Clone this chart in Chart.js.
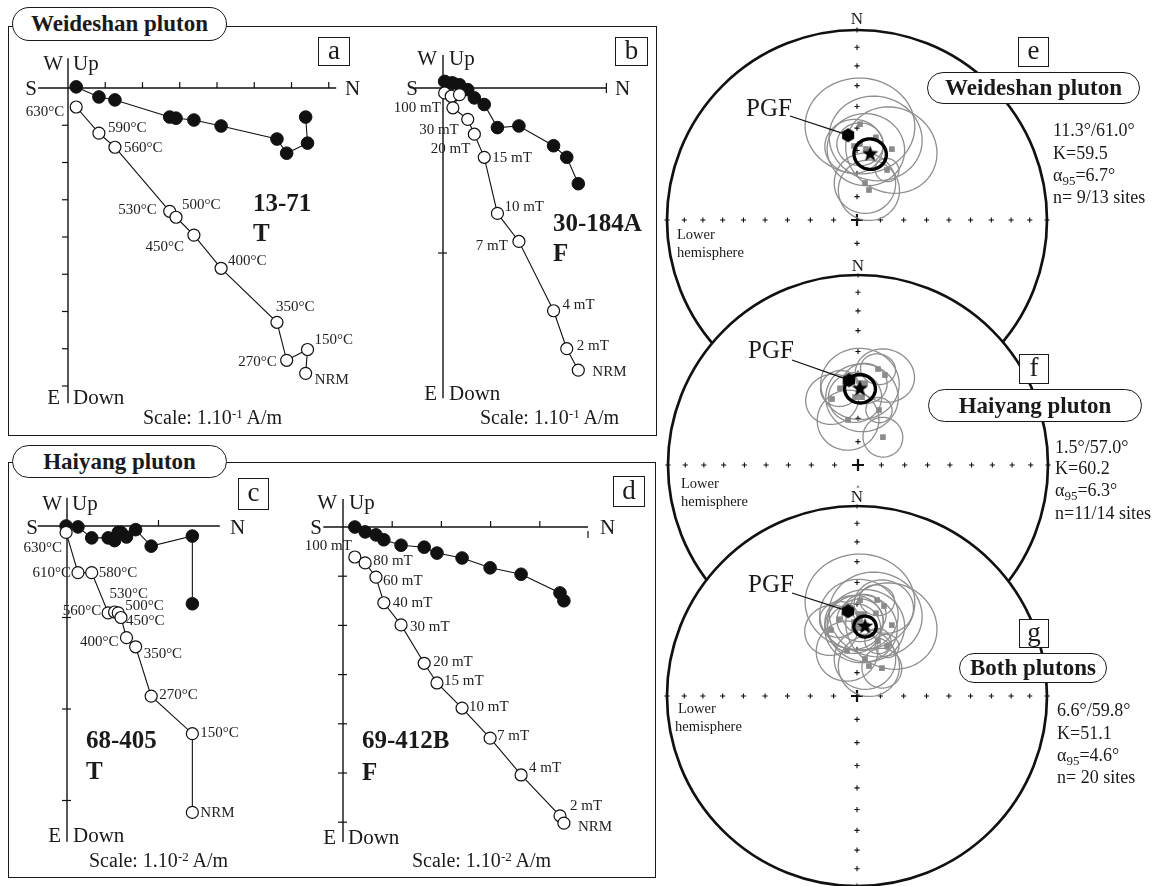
<!DOCTYPE html>
<html><head><meta charset="utf-8">
<script src="https://cdn.jsdelivr.net/npm/chart.js@4.4.1/dist/chart.umd.min.js"></script>
<style>
html,body{margin:0;padding:0;background:#fff;}
#root{position:relative;width:1157px;height:886px;overflow:hidden;font-family:"Liberation Serif","DejaVu Serif",serif;color:#1a1a1a;background:#fff;}
.frame{position:absolute;border:1.5px solid #1a1a1a;box-sizing:border-box;z-index:0;}
canvas{position:absolute;}
.t{position:absolute;white-space:nowrap;line-height:1;z-index:10;}
.t sub{font-size:0.72em;vertical-align:-0.3em;line-height:0;}
.t sup{font-size:0.65em;vertical-align:0.45em;line-height:0;}
.pill{position:absolute;border:1.5px solid #1a1a1a;border-radius:17px;background:#fff;font-weight:bold;display:flex;align-items:center;justify-content:center;box-sizing:border-box;z-index:10;font-size:23px;white-space:nowrap;}
.box{position:absolute;border:1.2px solid #1a1a1a;background:#fff;display:flex;align-items:center;justify-content:center;box-sizing:border-box;z-index:10;font-size:27px;line-height:1;padding-bottom:3px;}
</style></head><body><div id="root"></div>
<script>
// ===================== DATA =====================
// Orthogonal (Zijderveld) diagrams: values in units of the axis tick spacing of each panel
// north = N component (horizontal axis), east = E component (filled dots), down = Down component (open dots)
const stepsA = ['630°C','590°C','560°C','530°C','500°C','450°C','400°C','350°C','270°C','150°C','NRM'];
const northA = [0.22,0.83,1.26,2.73,2.90,3.38,4.11,5.61,5.87,6.43,6.38];
const eastA  = [-0.03,0.24,0.32,0.78,0.81,0.86,1.02,1.37,1.75,1.48,0.78];
const downA  = [0.51,1.21,1.59,3.31,3.47,3.95,4.84,6.29,7.31,7.02,7.66];

const stepsB = ['','','','100 mT','30 mT','20 mT','15 mT','10 mT','7 mT','4 mT','2 mT','NRM'];
const northB = [0.01,0.05,0.10,0.06,0.15,0.19,0.25,0.33,0.46,0.67,0.75,0.82];
const eastB  = [-0.04,-0.03,-0.02,-0.03,0.01,0.06,0.10,0.24,0.23,0.35,0.42,0.58];
const downB  = [0.03,0.05,0.04,0.12,0.19,0.28,0.42,0.76,0.93,1.35,1.58,1.71];

const stepsC = ['630°C','610°C','580°C','560°C','530°C','500°C','450°C','400°C','350°C','270°C','150°C','NRM'];
const northC = [-0.01,0.12,0.27,0.45,0.52,0.56,0.59,0.65,0.75,0.92,1.37,1.37];
const eastC  = [0.00,0.01,0.13,0.13,0.16,0.07,0.07,0.12,0.04,0.22,0.11,0.85];
const downC  = [0.07,0.51,0.51,0.95,0.94,0.95,1.00,1.22,1.32,1.86,2.27,3.13];

const stepsD = ['100 mT','80 mT','60 mT','40 mT','30 mT','20 mT','15 mT','10 mT','7 mT','4 mT','2 mT','NRM'];
const northD = [0.24,0.45,0.67,0.83,1.18,1.65,1.91,2.42,2.99,3.62,4.41,4.49];
const eastD  = [0.00,0.10,0.16,0.26,0.37,0.41,0.53,0.63,0.83,0.96,1.34,1.50];
const downD  = [0.61,0.73,1.02,1.54,1.99,2.77,3.17,3.68,4.29,5.04,5.87,6.02];

// Site-mean directions (declination °, inclination °, alpha95 °)
const weideshanDec = [1.8,12.9,26.2,31.0,12.2,21.8,357.7,2.3,7.2];
const weideshanInc = [48.2,53.2,55.8,64.9,73.8,76.2,58.0,57.1,59.1];
const weideshanA95 = [22,19,19,5,13,13,12,9.5,16];
const haiyangDec = [1.4,16.7,11.8,338.5,347.5,41.8,20.9,3.4,357.5,346.8,4.9];
const haiyangInc = [54.5,49.1,47.2,59.4,70.2,74.0,64.7,60.7,60.7,55.9,54.4];
const haiyangA95 = [16,12,7,11,13,8.5,5.5,15,11,8,9];
// Formation means [Dec, Inc, alpha95] and present geomagnetic field [Dec, Inc]
const weideshanMean = [11.3,61.0,6.7];
const haiyangMean = [1.5,57.0,6.3];
const bothMean = [6.6,59.8,4.6];
const pgfDir = [354,53];
// Stereonet reference marks
const stereoTickInc = [80,70,60,50,40,30,20,10,0];
const stereoTickDec = [0,90,180,270];

// ===================== HELPERS =====================
const root = document.getElementById('root');
Chart.defaults.font.family = '"Liberation Serif","DejaVu Serif",serif';

function T(html,x,y,size,opt){
  opt=opt||{};
  const d=document.createElement('div'); d.className='t'; d.innerHTML=html;
  d.style.left=x+'px'; d.style.top=y+'px'; d.style.fontSize=size+'px';
  const tx = opt.align==='right'?'-100%':(opt.align==='center'?'-50%':'0');
  d.style.transform='translate('+tx+',-50%)';
  if(opt.bold) d.style.fontWeight='bold';
  if(opt.bg) d.style.background='#fff';
  root.appendChild(d); return d;
}
function el(cls,l,t,w,h,html){
  const d=document.createElement('div'); d.className=cls;
  d.style.left=l+'px'; d.style.top=t+'px'; d.style.width=w+'px'; d.style.height=h+'px';
  if(html!==undefined) d.innerHTML=html; root.appendChild(d); return d;
}
function mkCanvas(l,t,w,h,z){
  const c=document.createElement('canvas'); c.width=w; c.height=h;
  c.style.left=l+'px'; c.style.top=t+'px'; c.style.width=w+'px'; c.style.height=h+'px'; c.style.zIndex=z;
  root.appendChild(c); return c;
}

// ---------- Zijderveld chart ----------
function zijChart(cfg){
  const b=cfg.box, o=cfg.origin, ppu=cfg.ppu, ax=cfg.axes;
  const cv=mkCanvas(b.l,b.t,b.w,b.h,1);
  const hor=cfg.north.map((n,i)=>({x:n,y:cfg.east[i]}));
  const ver=cfg.north.map((n,i)=>({x:n,y:cfg.down[i]}));
  new Chart(cv,{type:'scatter',
    data:{datasets:[
      {data:ver,showLine:true,borderColor:'#111',borderWidth:1.1,pointRadius:6,pointBackgroundColor:'#fff',pointBorderColor:'#111',pointBorderWidth:1.2,order:1,clip:false},
      {data:hor,showLine:true,borderColor:'#111',borderWidth:1.1,pointRadius:6.3,pointBackgroundColor:'#111',pointBorderColor:'#111',pointBorderWidth:1,order:2,clip:false}
    ]},
    options:{responsive:false,animation:false,events:[],devicePixelRatio:1,
      layout:{padding:0,autoPadding:false},
      plugins:{legend:{display:false},tooltip:{enabled:false}},
      scales:{
        x:{type:'linear',display:false,min:(b.l-o.x)/ppu,max:(b.l+b.w-o.x)/ppu},
        y:{type:'linear',display:false,reverse:true,min:(b.t-o.y)/ppu,max:(b.t+b.h-o.y)/ppu}
      }},
    plugins:[{id:'zaxes',
      beforeDatasetsDraw(ch){
        const c=ch.ctx,X=v=>ch.scales.x.getPixelForValue(v),Y=v=>ch.scales.y.getPixelForValue(v);
        const x0=X(0),y0=Y(0);
        const L=(a,b2,c2,d)=>{c.beginPath();c.moveTo(a,b2);c.lineTo(c2,d);c.stroke();};
        c.save(); c.strokeStyle='#111'; c.lineWidth=1.4;
        L(X(ax.h[0]),y0,X(ax.h[1]),y0);
        L(x0,Y(ax.v[0]),x0,Y(ax.v[1]));
        c.lineWidth=1.2;
        (ax.hUp||[]).forEach(t=>L(X(t),y0,X(t),y0-6));
        (ax.hDown||[]).forEach(t=>L(X(t),y0+4,X(t),y0+11));
        (ax.hCross||[]).forEach(t=>L(X(t),y0-5,X(t),y0+5));
        (ax.vLeft||[]).forEach(t=>L(x0-6,Y(t),x0,Y(t)));
        (ax.vCross||[]).forEach(t=>L(x0-5,Y(t),x0+4,Y(t)));
        c.restore();
      },
      afterDatasetsDraw(ch){
        const c=ch.ctx,X=v=>ch.scales.x.getPixelForValue(v),Y=v=>ch.scales.y.getPixelForValue(v);
        c.save(); c.fillStyle='#222'; c.font='15px "Liberation Serif"'; c.textBaseline='middle';
        cfg.steps.forEach((s,i)=>{
          const p=cfg.labels[i]; if(!s||!p) return;
          c.textAlign=p[2]; c.fillText(s,X(cfg.north[i])+p[0],Y(cfg.down[i])+p[1]);
        });
        c.restore();
      }}]
  });
}

// ---------- Stereonet ----------
const RAD=Math.PI/180;
function dirVec(D,I){return [Math.cos(I*RAD)*Math.cos(D*RAD),Math.cos(I*RAD)*Math.sin(D*RAD),Math.sin(I*RAD)];}
function vecProj(v){
  let n=v[0],e=v[1],d=v[2]; if(d<0){n=-n;e=-e;d=-d;}
  const len=Math.hypot(n,e,d); n/=len;e/=len;d/=len;
  const inc=Math.asin(Math.min(1,d)); const r=Math.SQRT2*Math.sin((Math.PI/2-inc)/2);
  const h=Math.hypot(n,e)||1; return {x:r*e/h,y:r*n/h};
}
function proj(D,I){return vecProj(dirVec(D,I));}
function cross(a,b){return [a[1]*b[2]-a[2]*b[1],a[2]*b[0]-a[0]*b[2],a[0]*b[1]-a[1]*b[0]];}
function norm(a){const l=Math.hypot(a[0],a[1],a[2]);return a.map(x=>x/l);}
function smallCircle(D,I,a){
  const p=dirVec(D,I); let u=cross(p,[0,0,1]); if(Math.hypot(u[0],u[1],u[2])<1e-6)u=[0,1,0]; u=norm(u);
  const w=cross(p,u); const pts=[]; const ca=Math.cos(a*RAD),sa=Math.sin(a*RAD);
  for(let k=0;k<=72;k++){const t=k*5*RAD;
    pts.push(vecProj([0,1,2].map(j=>p[j]*ca+(u[j]*Math.cos(t)+w[j]*Math.sin(t))*sa)));}
  return pts;
}
function makeStar(r){
  const s=Math.ceil(r*2+2),c=document.createElement('canvas');c.width=c.height=s;const g=c.getContext('2d');
  g.fillStyle='#000';g.beginPath();
  for(let k=0;k<10;k++){const rr=k%2?r*0.42:r,a=-Math.PI/2+k*Math.PI/5;g.lineTo(s/2+rr*Math.cos(a),s/2+rr*Math.sin(a));}
  g.closePath();g.fill();return c;
}
function makeHex(r){
  const s=Math.ceil(r*2+2),c=document.createElement('canvas');c.width=c.height=s;const g=c.getContext('2d');
  g.fillStyle='#000';g.beginPath();
  for(let k=0;k<6;k++){const a=Math.PI/6+k*Math.PI/3;g.lineTo(s/2+r*Math.cos(a),s/2+r*Math.sin(a));}
  g.closePath();g.fill();return c;
}
const starImg=makeStar(8.5), hexImg=makeHex(7);

function stereoChart(cfg){
  const half=209,R=190,lim=half/R;
  const L0=cfg.center.x-half,T0=cfg.center.y-half;
  const cv=mkCanvas(L0,T0,half*2,half*2,cfg.z);
  const sites=cfg.dec.map((d,i)=>proj(d,cfg.inc[i]));
  const m=proj(cfg.mean[0],cfg.mean[1]);
  const pg=proj(pgfDir[0],pgfDir[1]);
  new Chart(cv,{type:'scatter',
    data:{datasets:[
      {data:[pg],pointStyle:hexImg,pointRadius:7,order:1},
      {data:[m],pointStyle:starImg,pointRadius:8,order:2},
      {data:sites,pointStyle:'rect',pointRadius:4,pointBackgroundColor:'#8a8a8a',pointBorderColor:'#8a8a8a',pointBorderWidth:0,order:3}
    ]},
    options:{responsive:false,animation:false,events:[],devicePixelRatio:1,
      layout:{padding:0,autoPadding:false},
      plugins:{legend:{display:false},tooltip:{enabled:false}},
      scales:{x:{type:'linear',display:false,min:-lim,max:lim},y:{type:'linear',display:false,min:-lim,max:lim}}},
    plugins:[{id:'net',
      beforeDatasetsDraw(ch){
        const c=ch.ctx,sx=ch.scales.x,sy=ch.scales.y;
        const P=p=>[sx.getPixelForValue(p.x),sy.getPixelForValue(p.y)];
        const cx=sx.getPixelForValue(0),cy=sy.getPixelForValue(0),rr=sx.getPixelForValue(1)-cx;
        const plus=(x,y,a)=>{c.beginPath();c.moveTo(x-a,y);c.lineTo(x+a,y);c.moveTo(x,y-a);c.lineTo(x,y+a);c.stroke();};
        c.save();
        c.beginPath();c.arc(cx,cy,rr,0,2*Math.PI);c.fillStyle='#fff';c.fill();
        c.lineWidth=2.7;c.strokeStyle='#111';c.stroke();
        c.lineWidth=1.1;
        stereoTickDec.forEach(d=>stereoTickInc.forEach(i=>{const q=P(proj(d,i));plus(q[0],q[1],2.6);}));
        c.lineWidth=2.2;plus(cx,cy,6);
        c.strokeStyle='#8e8e8e';c.lineWidth=1.3;
        cfg.dec.forEach((d,k)=>{
          const pts=smallCircle(d,cfg.inc[k],cfg.a95[k]);c.beginPath();
          pts.forEach((p,j)=>{const q=P(p); if(j)c.lineTo(q[0],q[1]); else c.moveTo(q[0],q[1]);});
          c.closePath();c.stroke();
        });
        // PGF leader line
        const q=P(pg);c.strokeStyle='#111';c.lineWidth=1.3;c.beginPath();
        c.moveTo(cfg.leader.x-L0,cfg.leader.y-T0);c.lineTo(q[0],q[1]);c.stroke();
        c.restore();
      },
      afterDatasetsDraw(ch){
        const c=ch.ctx,sx=ch.scales.x,sy=ch.scales.y;
        const pts=smallCircle(cfg.mean[0],cfg.mean[1],cfg.mean[2]);
        c.save();c.strokeStyle='#000';c.lineWidth=3.4;c.beginPath();
        pts.forEach((p,j)=>{const x=sx.getPixelForValue(p.x),y=sy.getPixelForValue(p.y); if(j)c.lineTo(x,y); else c.moveTo(x,y);});
        c.closePath();c.stroke();c.restore();
      }}]
  });
}

// ===================== LAYOUT =====================
el('frame',8,26,649,410);
el('frame',8,462,648,416);

zijChart({box:{l:18,t:45,w:362,h:365},origin:{x:68,y:88},ppu:37.25,
  north:northA,east:eastA,down:downA,steps:stepsA,
  labels:[[-12,5,'right'],[9,-5,'left'],[9,1,'left'],[-13,-1,'right'],[6,-12,'left'],[-10,12,'right'],[7,-7,'left'],[-1,-15,'left'],[-10,2,'right'],[7,-9,'left'],[9,7,'left']],
  axes:{h:[-0.8,7.2],hUp:[1,2,3,4,5,6,7],v:[-0.8,8.46],vLeft:[1,2,3,4,5,6,7,8]}});
zijChart({box:{l:380,t:45,w:265,h:365},origin:{x:443,y:88},ppu:165,
  north:northB,east:eastB,down:downB,steps:stepsB,
  labels:[null,null,null,[-12,0,'right'],[-9,11,'right'],[-4,15,'right'],[8,1,'left'],[7,-6,'left'],[-11,5,'right'],[9,-6,'left'],[10,-3,'left'],[14,2,'left']],
  axes:{h:[-0.17,0.99],hCross:[0.99],v:[-0.2,1.88],vCross:[1]}});
zijChart({box:{l:15,t:490,w:320,h:360},origin:{x:67,y:526},ppu:91.5,
  north:northC,east:eastC,down:downC,steps:stepsC,
  labels:[[-4,16,'right'],[-7,0,'right'],[7,0,'left'],[-7,-2,'right'],[-5,-18,'left'],[7,-7,'left'],[5,4,'left'],[-8,4,'right'],[8,7,'left'],[8,-1,'left'],[8,-1,'left'],[8,1,'left']],
  axes:{h:[-0.32,1.67],hUp:[1],v:[-0.31,3.45],vCross:[1,2,3]}});
zijChart({box:{l:290,t:490,w:340,h:360},origin:{x:343,y:527},ppu:49.2,
  north:northD,east:eastD,down:downD,steps:stepsD,
  labels:[[-3,-11,'right'],[8,-2,'left'],[7,4,'left'],[9,0,'left'],[9,2,'left'],[9,-1,'left'],[7,-2,'left'],[7,-1,'left'],[7,-2,'left'],[8,-7,'left'],[10,-10,'left'],[14,4,'left']],
  axes:{h:[-0.4,4.98],hUp:[1,2,3,4],hDown:[4.98],v:[-0.57,6.4],vCross:[1,2,3,4,5,6]}});

stereoChart({center:{x:857,y:220},z:2,dec:weideshanDec,inc:weideshanInc,a95:weideshanA95,mean:weideshanMean,leader:{x:790,y:116}});
stereoChart({center:{x:858,y:465},z:3,dec:haiyangDec,inc:haiyangInc,a95:haiyangA95,mean:haiyangMean,leader:{x:792,y:360}});
stereoChart({center:{x:857,y:696},z:4,dec:weideshanDec.concat(haiyangDec),inc:weideshanInc.concat(haiyangInc),a95:weideshanA95.concat(haiyangA95),mean:bothMean,leader:{x:792,y:593}});

// ---- Titles / boxes ----
el('pill',12,7,215,34,'Weideshan pluton');
el('pill',12,445,215,33,'Haiyang pluton');
el('pill',927,72,213,32,'Weideshan pluton');
el('pill',928,389,214,33,'Haiyang pluton');
el('pill',959,653,148,30,'Both plutons');
el('box',318,37,32,29,'a');
el('box',615,37,33,29,'b');
el('box',238,478,31,32,'c');
el('box',613,476,32,31,'d');
el('box',1018,37,31,30,'e');
el('box',1019,354,30,30,'f');
el('box',1019,619,30,29,'g');

// ---- Zijderveld axis letters ----
const AX=21;
[[63,63,73,63,37,88,345,88,60,397,73,397],
 [437,58,449,58,418,88,615,88,437,393,449,393],
 [62,503,72,503,38,527,230,527,61,835,73,835],
 [337,502,349,502,322,527,600,527,336,837,348,837]].forEach(a=>{
  T('W',a[0],a[1],AX,{align:'right'}); T('Up',a[2],a[3],AX);
  T('S',a[4],a[5],AX,{align:'right'}); T('N',a[6],a[7],AX);
  T('E',a[8],a[9],AX,{align:'right'}); T('Down',a[10],a[11],AX);
});
// sample names
T('13-71',253,202,25,{bold:true}); T('T',253,232,25,{bold:true});
T('30-184A',553,222,25,{bold:true}); T('F',553,252,25,{bold:true});
T('68-405',86,739,25,{bold:true}); T('T',86,770,25,{bold:true});
T('69-412B',362,739,25,{bold:true}); T('F',362,771,25,{bold:true});
// scales
T('Scale: 1.10<sup>-1</sup> A/m',143,417,20);
T('Scale: 1.10<sup>-1</sup> A/m',480,417,20);
T('Scale: 1.10<sup>-2</sup> A/m',89,860,20);
T('Scale: 1.10<sup>-2</sup> A/m',412,860,20);

// ---- Stereonet texts ----
T('N',857,18,17,{align:'center'});
T('N',858,265,17,{align:'center',bg:true});
T('N',857,496,17,{align:'center',bg:true});
T('PGF',746,107,25); T('PGF',748,349,25); T('PGF',748,583,25);
T('Lower',677,234,14.5); T('hemisphere',677,252,14.5);
T('Lower',681,483,14.5); T('hemisphere',681,501,14.5);
T('Lower',678,708,14.5); T('hemisphere',675,726,14.5);
[['11.3°/61.0°','K=59.5','α<sub>95</sub>=6.7°','n= 9/13 sites',1053,[130,153,175,197]],
 ['1.5°/57.0°','K=60.2','α<sub>95</sub>=6.3°','n=11/14 sites',1055,[447,468,490,513]],
 ['6.6°/59.8°','K=51.1','α<sub>95</sub>=4.6°','n= 20 sites',1057,[710,733,755,777]]].forEach(s=>{
  for(let k=0;k<4;k++) T(s[k],s[4],s[5][k],18);
});
</script></body></html>
